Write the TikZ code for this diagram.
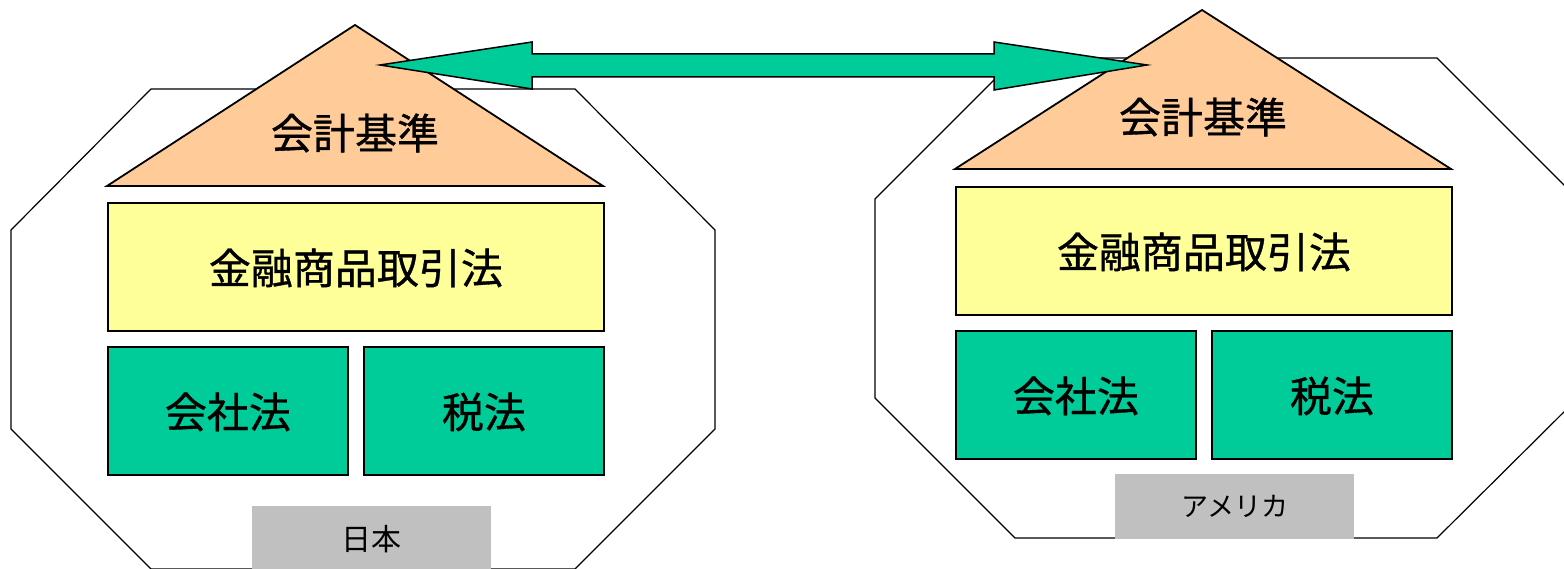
\documentclass[tikz,border=0pt]{standalone}
\usepackage{fontspec}
\newfontfamily\jp[FakeBold=0.8]{Noto Sans CJK JP}
\newfontfamily\jplabel{Noto Sans CJK JP}
\definecolor{peach}{HTML}{FFCC99}
\definecolor{paleyellow}{HTML}{FFFF99}
\definecolor{seagreen}{HTML}{00CC99}
\definecolor{labelgray}{HTML}{C0C0C0}
\tikzset{
  octa/.style={draw=black, line width=1.2pt, fill=white},
  roof/.style={draw=black, line width=1.8pt, fill=peach, line join=miter},
  bigtext/.style={font=\jp\fontsize{42}{50}\selectfont, inner sep=0pt},
  lawbox/.style={draw=black, line width=1.8pt, anchor=north west, inner sep=0pt,
                 text height=34pt, text depth=-2pt,
                 font=\jp\fontsize{42}{50}\selectfont},
  fsa/.style={lawbox, fill=paleyellow, minimum width=496pt, minimum height=128pt},
  locbox/.style={lawbox, fill=seagreen, minimum width=240pt, minimum height=128pt},
  country/.style={fill=labelgray, anchor=north west, inner sep=0pt,
                  minimum width=239pt, minimum height=65pt},
  linkarrow/.style={draw=black, line width=1.5pt, fill=seagreen, line join=miter}
}
\begin{document}
\begin{tikzpicture}[x=1pt,y=-1pt]
\useasboundingbox (0,0) rectangle (1564,569);

% country outlines (octagons)
\draw[octa] (151,89) -- (575,89) -- (715,230) -- (715,429) -- (575,569)
            -- (151,569) -- (11,429) -- (11,230) -- cycle;
\draw[octa] (1016,58) -- (1437,58) -- (1578,199) -- (1578,398) -- (1437,538)
            -- (1015,538) -- (875,398) -- (875,199) -- cycle;

% accounting standards (roofs)
\draw[roof] (355,25) -- (603,186) -- (107,186) -- cycle;
\node[bigtext] (jpstd) at (355,133) {会計基準};
\draw[roof] (1202,10) -- (1451,169) -- (955,169) -- cycle;
\node[bigtext] (usstd) at (1203,117) {会計基準};

% link between the two standards
\draw[linkarrow] (380,65) -- (532,42) -- (532,54) -- (994,54) -- (994,42)
                 -- (1147,65) -- (994,90) -- (994,77) -- (532,77) -- (532,89) -- cycle;

% Japan
\node[fsa]    (jpfsa) at (107,202) {金融商品取引法};
\node[locbox] (jpco)  at (107,346) {会社法};
\node[locbox] (jptax) at (363,346) {税法};
\node[country, font=\jplabel\fontsize{30}{36}\selectfont] (jp) at (252,506) {日本};

% United States
\node[fsa]    (usfsa) at (955,186) {金融商品取引法};
\node[locbox] (usco)  at (955,330) {会社法};
\node[locbox] (ustax) at (1211,330) {税法};
\node[country, font=\jplabel\fontsize{27}{32}\selectfont] (us) at (1115,474) {アメリカ};
\end{tikzpicture}
\end{document}
